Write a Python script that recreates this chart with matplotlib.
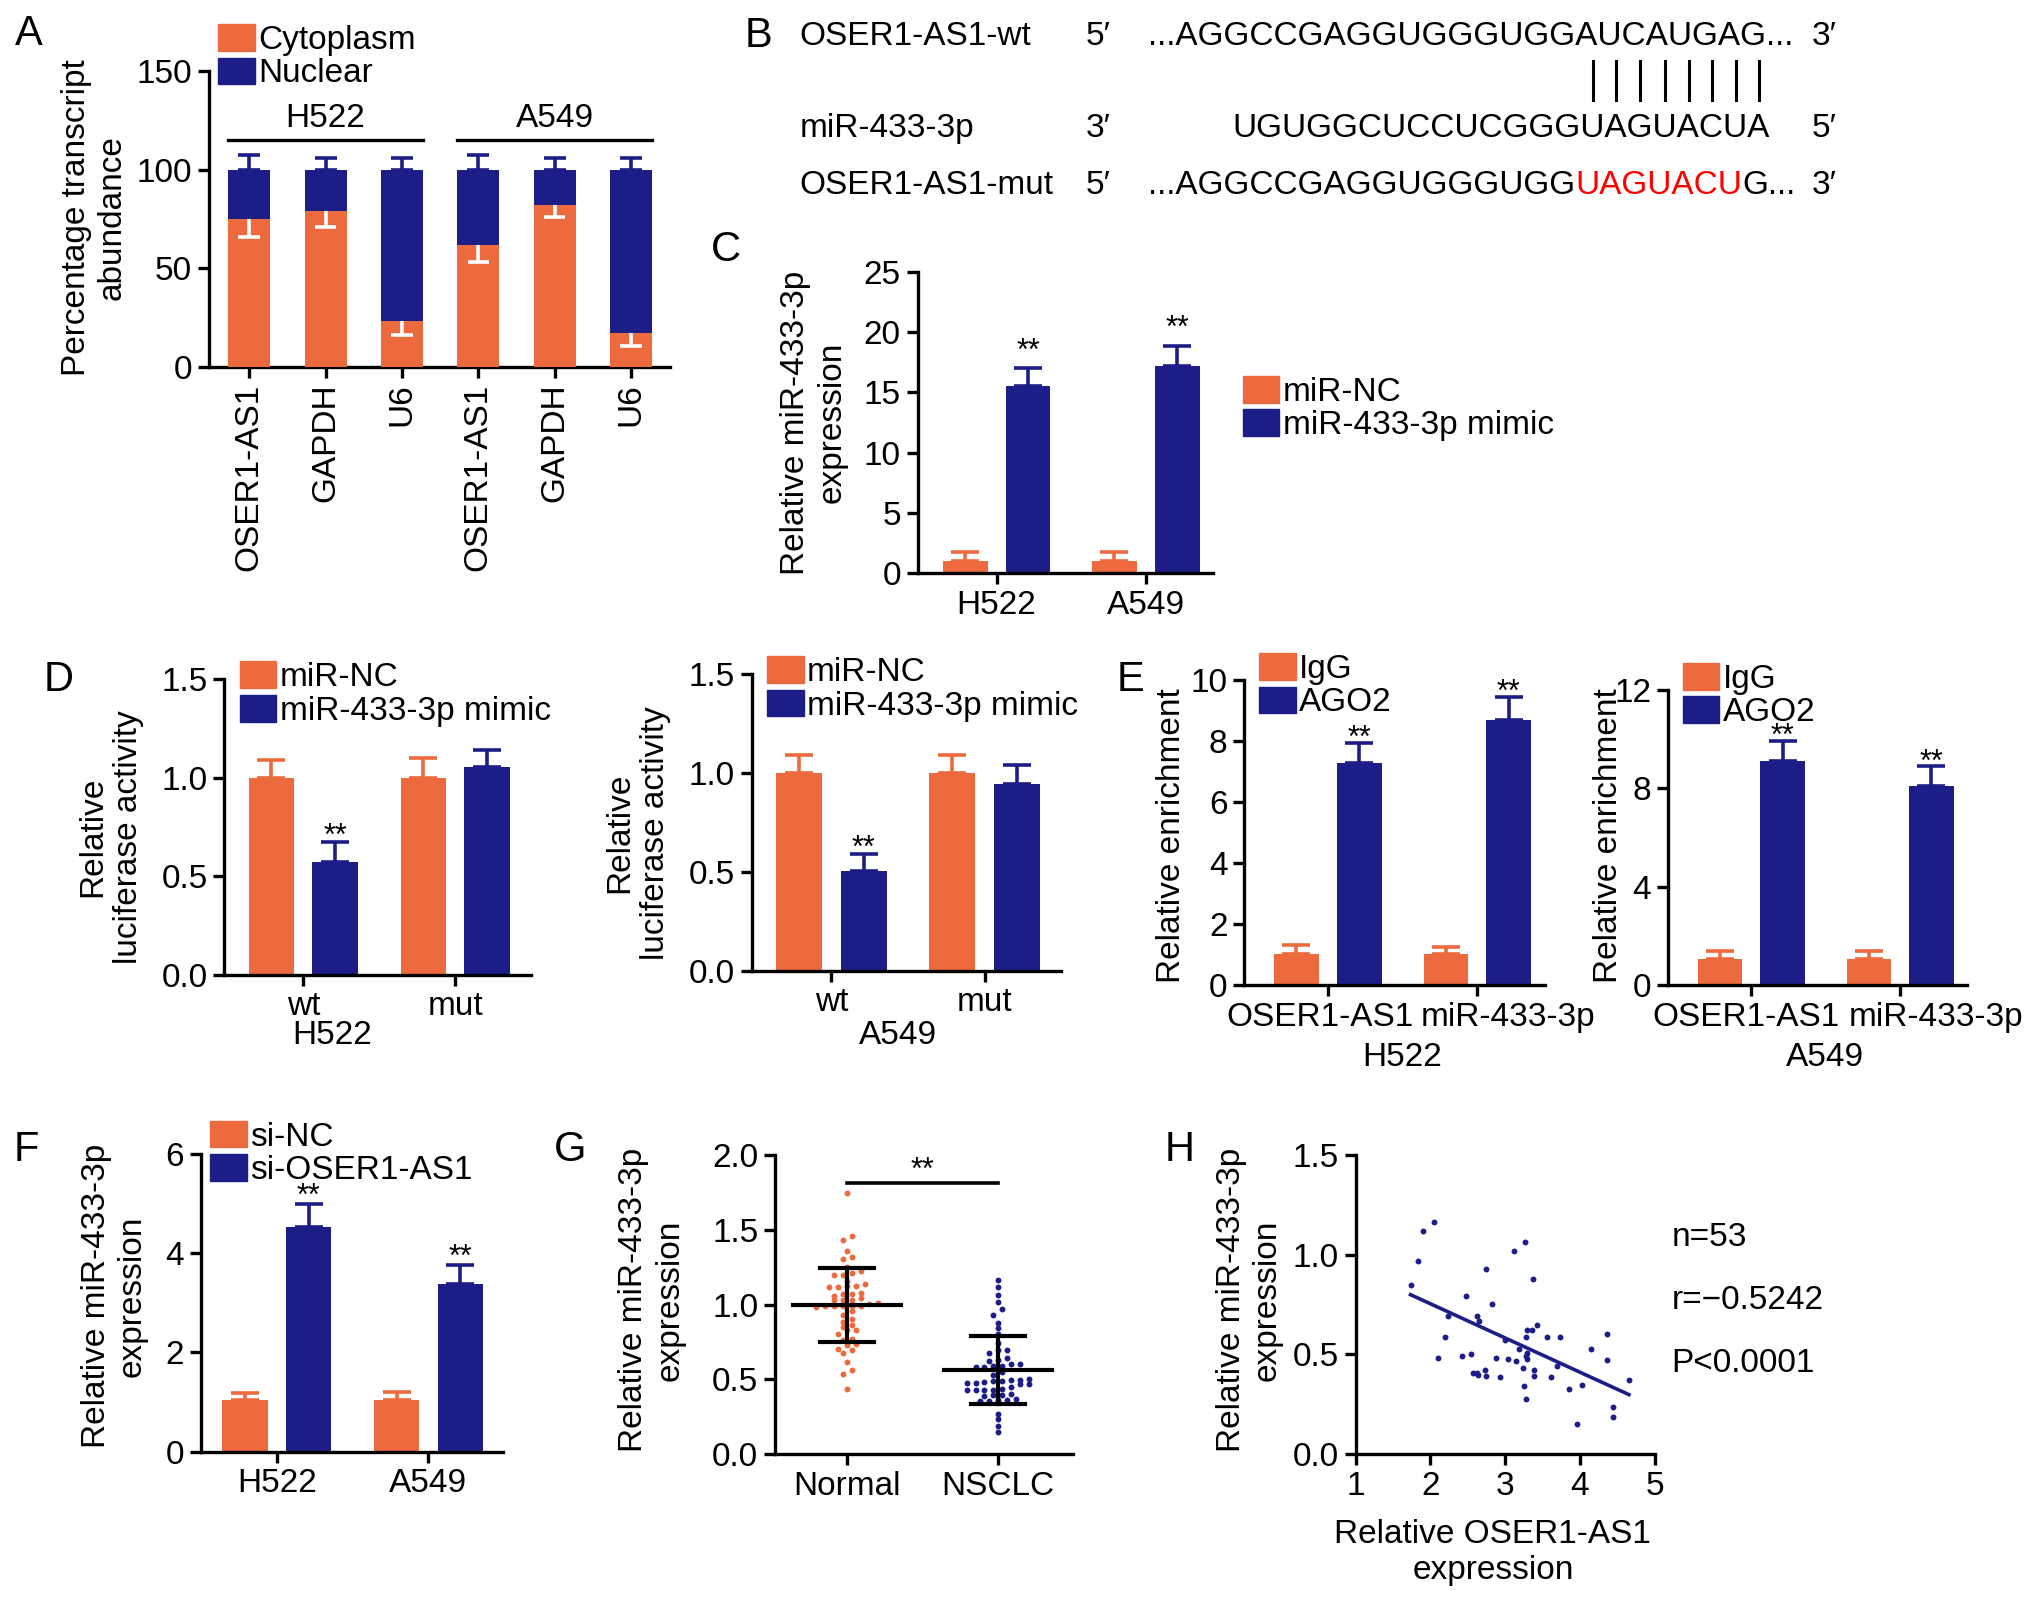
import numpy as np
import matplotlib
matplotlib.use("Agg")
import matplotlib.pyplot as plt
from matplotlib.patches import Patch
from matplotlib.lines import Line2D
import matplotlib.transforms as mtransforms

# ---------------- data ----------------
# A: subcellular fractionation (percent)
a_genes = ["OSER1-AS1", "GAPDH", "U6", "OSER1-AS1", "GAPDH", "U6"]
a_cells = ["H522", "A549"]
a_cyto = [75, 79, 23, 62, 82, 17]
a_cyto_err = [9, 8, 7, 9, 6, 6.5]
a_nuc_total = [100, 100, 100, 100, 100, 100]
a_nuc_err = [7.5, 6, 6, 7.5, 6, 6]

# B: sequences
b_wt = "...AGGCCGAGGUGGGUGGAUCAUGAG..."
b_mir = "UGUGGCUCCUCGGGUAGUACUA"
b_mut_parts = ["...AGGCCGAGGUGGGUGG", "UAGUACU", "G..."]
b_pair_idx = [14, 15, 16, 17, 18, 19, 20, 21]

cells = ["H522", "A549"]

# C: miR-433-3p after mimic
c_nc = [1.0, 1.0]
c_nc_err = [0.7, 0.7]
c_mimic = [15.5, 17.2]
c_mimic_err = [1.5, 1.7]

# D: luciferase
d_groups = ["wt", "mut"]
d_h522_nc = [1.0, 1.0]
d_h522_nc_err = [0.09, 0.10]
d_h522_mimic = [0.57, 1.055]
d_h522_mimic_err = [0.105, 0.087]
d_a549_nc = [1.0, 1.0]
d_a549_nc_err = [0.09, 0.09]
d_a549_mimic = [0.505, 0.945]
d_a549_mimic_err = [0.085, 0.095]

# E: RIP
e_targets = ["OSER1-AS1", "miR-433-3p"]
e_h522_igg = [1.03, 1.02]
e_h522_igg_err = [0.28, 0.22]
e_h522_ago2 = [7.3, 8.7]
e_h522_ago2_err = [0.64, 0.75]
e_a549_igg = [1.05, 1.05]
e_a549_igg_err = [0.33, 0.33]
e_a549_ago2 = [9.1, 8.1]
e_a549_ago2_err = [0.83, 0.78]

# F: knockdown
f_nc = [1.03, 1.03]
f_nc_err = [0.16, 0.18]
f_si = [4.52, 3.37]
f_si_err = [0.46, 0.39]

# G: tissue expression
g_normal = [1.742, 1.457, 1.430, 1.356, 1.318, 1.301, 1.212, 1.200, 1.200, 1.225,
            1.125, 1.114, 1.114, 1.125, 1.136, 1.073, 1.058, 1.069, 1.080, 1.029,
            1.029, 1.033, 1.047, 0.991, 0.984, 0.991, 0.991, 0.991, 0.991, 0.958,
            0.902, 0.884, 0.851, 0.829, 0.862, 0.829, 0.806, 0.739, 0.706, 0.695,
            0.728, 0.673, 0.617, 0.561, 0.539, 0.439, 1.002, 1.007, 1.250, 1.160,
            0.770, 0.760, 0.930]
g_nsclc = [1.163, 1.118, 1.062, 1.018, 0.967, 0.933, 0.878, 0.846, 0.695, 0.673,
           0.695, 0.640, 0.628, 0.606, 0.588, 0.584, 0.588, 0.584, 0.621, 0.528,
           0.499, 0.490, 0.483, 0.479, 0.472, 0.472, 0.479, 0.490, 0.499, 0.439,
           0.432, 0.428, 0.394, 0.388, 0.394, 0.401, 0.428, 0.432, 0.356, 0.356,
           0.361, 0.372, 0.272, 0.238, 0.187, 0.149, 0.800, 0.740, 0.600, 0.550,
           0.500, 0.450, 0.360]
g_groups = ["Normal", "NSCLC"]

# H: correlation
h_oser = [1.735, 1.837, 1.895, 2.047, 2.100, 2.194, 2.238, 2.425, 2.470, 2.546,
          2.572, 2.626, 2.648, 2.639, 2.737, 2.728, 2.750, 2.826, 2.871, 2.929,
          2.996, 3.040, 3.116, 3.258, 3.370, 3.285, 3.361, 3.419, 3.272, 3.183,
          3.138, 3.272, 3.285, 3.241, 3.383, 3.383, 3.250, 3.281, 3.552, 3.726,
          3.695, 3.606, 3.851, 4.029, 3.962, 4.140, 4.363, 4.363, 4.439, 4.439,
          4.653, 2.620, 3.290]
h_mir = [0.846, 0.969, 1.118, 1.165, 0.481, 0.587, 0.695, 0.494, 0.791, 0.503,
         0.407, 0.695, 0.670, 0.397, 0.930, 0.424, 0.394, 0.751, 0.481, 0.385,
         0.573, 0.478, 1.017, 1.061, 0.880, 0.620, 0.623, 0.648, 0.587, 0.528,
         0.469, 0.494, 0.478, 0.431, 0.424, 0.394, 0.344, 0.277, 0.587, 0.587,
         0.441, 0.385, 0.327, 0.349, 0.154, 0.528, 0.603, 0.474, 0.238, 0.188,
         0.372, 0.405, 0.505]
h_stats = ["n=53", "r=\u22120.5242", "P<0.0001"]

# ---------------- style ----------------
ORANGE = "#EC6A3E"
NAVY = "#1D1D88"
FS = 24
plt.rcParams["font.family"] = ["Liberation Sans", "DejaVu Sans"]
plt.rcParams["font.size"] = FS

W, H = 1568.0, 1236.0   # layout grid in preview pixels
fig = plt.figure(figsize=(20.32, 16.02), dpi=100)


def axes_at(x0, x1, ytop, ybot):
    return fig.add_axes([x0 / W, 1 - ybot / H, (x1 - x0) / W, (ybot - ytop) / H])


def ftext(x, y, s, **kw):
    kw.setdefault("ha", "center")
    kw.setdefault("va", "center")
    return fig.text(x / W, 1 - y / H, s, **kw)


def style(ax):
    for s in ("top", "right"):
        ax.spines[s].set_visible(False)
    for s in ("left", "bottom"):
        ax.spines[s].set_linewidth(2.4)
    ax.tick_params(width=2.4, length=8, labelsize=FS, pad=4)


def legend(ax, labels, anchor):
    handles = [Patch(color=ORANGE), Patch(color=NAVY)]
    ax.legend(handles, labels, loc="upper left", bbox_to_anchor=anchor,
              frameon=False, handlelength=1.1, handleheight=0.85,
              handletextpad=0.1, labelspacing=0.05, borderpad=0,
              borderaxespad=0, fontsize=FS)


def stars(ax, x, y, dy_pt):
    ax.annotate("**", (x, y), xytext=(0, dy_pt), textcoords="offset points",
                ha="center", va="baseline", fontsize=22)


OFF, BW = 0.21, 0.30


def pairs(ax, ctrl, ctrl_err, treat, treat_err, star_flags, dy_pt):
    x = np.arange(len(ctrl))
    ek = dict(elinewidth=2.6, capthick=2.6, capsize=10)
    ax.bar(x - OFF, ctrl, BW, color=ORANGE, yerr=[np.zeros(len(ctrl)), ctrl_err],
           error_kw=dict(ecolor=ORANGE, **ek), zorder=2)
    ax.bar(x + OFF, treat, BW, color=NAVY, yerr=[np.zeros(len(treat)), treat_err],
           error_kw=dict(ecolor=NAVY, **ek), zorder=2)
    for xi, v, e, s in zip(x + OFF, treat, treat_err, star_flags):
        if s:
            stars(ax, xi, v + e, dy_pt)
    ax.set_xticks(x)


# ---------------- A ----------------
axA = axes_at(161, 517, 55, 283)
style(axA)
xa = np.arange(len(a_genes))
wa = 0.55
axA.bar(xa, a_nuc_total, wa, color=NAVY, yerr=[np.zeros(6), a_nuc_err],
        error_kw=dict(ecolor=NAVY, elinewidth=2.6, capthick=2.6, capsize=8), zorder=2)
axA.bar(xa, a_cyto, wa, color=ORANGE, zorder=3)
low = np.asarray(a_cyto) - np.asarray(a_cyto_err)
axA.vlines(xa, low, a_cyto, color="white", lw=2.6, zorder=4)
axA.hlines(low, xa - 0.14, xa + 0.14, color="white", lw=2.6, zorder=4)
axA.set_xlim(-0.53, 5.51)
axA.set_ylim(0, 150)
axA.set_yticks([0, 50, 100, 150])
axA.set_xticks(xa)
axA.set_xticklabels(a_genes, rotation=90)
for k, name in enumerate(a_cells):
    x0, x1 = 3 * k - wa / 2, 3 * k + 2 + wa / 2
    axA.plot([x0, x1], [115, 115], color="black", lw=2.4, clip_on=False)
    axA.text((x0 + x1) / 2, 118, name, ha="center", va="bottom", fontsize=FS)
legend(axA, ["Cytoplasm", "Nuclear"], (0.02, 1.16))
ftext(73, 168, "Percentage transcript\nabundance", rotation=90, fontsize=FS,
      multialignment="center")
ftext(22, 26, "A", fontsize=30)

# ---------------- B ----------------
ftext(585, 28, "B", fontsize=30)
rows_y = [28, 99, 143]
ftext(617, rows_y[0], "OSER1-AS1-wt", ha="left")
ftext(617, rows_y[1], "miR-433-3p", ha="left")
ftext(617, rows_y[2], "OSER1-AS1-mut", ha="left")
for y, p in zip(rows_y, ["5\u2032", "3\u2032", "5\u2032"]):
    ftext(838, y, p, ha="left")
for y, p in zip(rows_y, ["3\u2032", "5\u2032", "3\u2032"]):
    ftext(1398, y, p, ha="left")
ftext(886, rows_y[0], b_wt, ha="left")
ftext(1366, rows_y[1], b_mir, ha="right")

renderer = fig.canvas.get_renderer()
fig_w_px = fig.bbox.width

# mutant row in pieces (red mutated site)
x_cur = 886 / W
for part, col in zip(b_mut_parts, ["black", "red", "black"]):
    t = fig.text(x_cur, 1 - rows_y[2] / H, part, ha="left", va="center", color=col)
    x_cur = t.get_window_extent(renderer).x1 / fig_w_px


def text_width(s):
    t = fig.text(0, 0, s, fontsize=FS)
    w = t.get_window_extent(renderer).width
    t.remove()
    return w


x_end_px = 1366 / W * fig_w_px
for i in b_pair_idx:
    xc = x_end_px - (text_width(b_mir[i:]) + text_width(b_mir[i + 1:])) / 2
    fig.add_artist(Line2D([xc / fig_w_px] * 2, [1 - 47 / H, 1 - 77 / H],
                          transform=fig.transFigure, color="black", lw=2.2))

# ---------------- C ----------------
axC = axes_at(708, 936, 210, 442)
style(axC)
pairs(axC, c_nc, c_nc_err, c_mimic, c_mimic_err, [True, True], 6)
axC.set_xticklabels(cells)
axC.set_xlim(-0.53, 1.45)
axC.set_ylim(0, 25)
axC.set_yticks([0, 5, 10, 15, 20, 25])
legend(axC, ["miR-NC", "miR-433-3p mimic"], (1.1, 0.655))
ftext(628, 326, "Relative miR-433-3p\nexpression", rotation=90, multialignment="center")
ftext(560, 193, "C", fontsize=30)

# ---------------- D ----------------
for (x0, x1, yt, yb), nc, nce, mm, mme, cell, lab_x, cell_x in [
        ((173, 410, 524, 752), d_h522_nc, d_h522_nc_err, d_h522_mimic, d_h522_mimic_err, "H522", 85, 256),
        ((580, 819, 520, 749), d_a549_nc, d_a549_nc_err, d_a549_mimic, d_a549_mimic_err, "A549", 492, 693)]:
    ax = axes_at(x0, x1, yt, yb)
    style(ax)
    pairs(ax, nc, nce, mm, mme, [True, False], -2)
    ax.set_xticklabels(d_groups)
    ax.set_xlim(-0.52, 1.5)
    ax.set_ylim(0, 1.5)
    ax.set_yticks([0, 0.5, 1.0, 1.5])
    ax.set_yticklabels(["0.0", "0.5", "1.0", "1.5"])
    legend(ax, ["miR-NC", "miR-433-3p mimic"], (0.05, 1.06))
    ftext(lab_x, (yt + yb) / 2 + 8, "Relative\nluciferase activity", rotation=90,
          multialignment="center")
    ftext(cell_x, 799, cell)
ftext(45, 525, "D", fontsize=30)

# ---------------- E ----------------
for (x0, x1, yt, yb), igg, igge, ago, agoe, cell, ymax, yt_list, lab_x, shifts in [
        ((960, 1192, 525, 760), e_h522_igg, e_h522_igg_err, e_h522_ago2, e_h522_ago2_err,
         "H522", 10, [0, 2, 4, 6, 8, 10], 904, (-6, 22)),
        ((1287, 1518, 532, 760), e_a549_igg, e_a549_igg_err, e_a549_ago2, e_a549_ago2_err,
         "A549", 12, [0, 4, 8, 12], 1241, (-4, 26))]:
    ax = axes_at(x0, x1, yt, yb)
    style(ax)
    pairs(ax, igg, igge, ago, agoe, [True, True], -3)
    ax.set_xticklabels(e_targets)
    for lbl, dx in zip(ax.get_xticklabels(), shifts):
        lbl.set_transform(lbl.get_transform() +
                          mtransforms.ScaledTranslation(dx / 72, 0, fig.dpi_scale_trans))
    ax.set_xlim(-0.56, 1.45)
    ax.set_ylim(0, ymax)
    ax.set_yticks(yt_list)
    legend(ax, ["IgG", "AGO2"], (0.05, 1.09))
    ftext(lab_x, 645, "Relative enrichment", rotation=90)
    ftext((x0 + x1) / 2 + 6, 816, cell)
ftext(872, 525, "E", fontsize=30)

# ---------------- F ----------------
axF = axes_at(155, 388, 890, 1120)
style(axF)
pairs(axF, f_nc, f_nc_err, f_si, f_si_err, [True, True], -0.5)
axF.set_xticklabels(cells)
axF.set_xlim(-0.5, 1.49)
axF.set_ylim(0, 6)
axF.set_yticks([0, 2, 4, 6])
legend(axF, ["si-NC", "si-OSER1-AS1"], (0.03, 1.11))
ftext(88, 1000, "Relative miR-433-3p\nexpression", rotation=90, multialignment="center")
ftext(20, 887, "F", fontsize=30)

# ---------------- G ----------------
axG = axes_at(598, 828, 891, 1122)
style(axG)
step, row_h = 0.059, 0.045
for k, (vals, col) in enumerate([(g_normal, ORANGE), (g_nsclc, NAVY)]):
    vals = np.asarray(vals)
    bins = np.round(vals / row_h).astype(int)
    offs = np.zeros(len(vals))
    for b in np.unique(bins):
        idx = np.where(bins == b)[0]
        idx = idx[np.argsort(vals[idx])]
        n = len(idx)
        offs[idx] = (np.arange(n) - (n - 1) / 2) * step
    axG.scatter(k + offs, vals, s=18, color=col, zorder=2, linewidths=0)
    m, sd = vals.mean(), vals.std(ddof=1)
    axG.plot([k - 0.36, k + 0.36], [m, m], color="black", lw=3, zorder=3)
    axG.plot([k, k], [m - sd, m + sd], color="black", lw=3, zorder=3)
    for yv in (m - sd, m + sd):
        axG.plot([k - 0.18, k + 0.18], [yv, yv], color="black", lw=3, zorder=3)
axG.plot([0, 1], [1.81, 1.81], color="black", lw=2.6)
stars(axG, 0.5, 1.81, 3)
axG.set_xticks([0, 1])
axG.set_xticklabels(g_groups)
axG.set_xlim(-0.48, 1.5)
axG.set_ylim(0, 2.0)
axG.set_yticks([0, 0.5, 1.0, 1.5, 2.0])
axG.set_yticklabels(["0.0", "0.5", "1.0", "1.5", "2.0"])
ftext(503, 1003, "Relative miR-433-3p\nexpression", rotation=90, multialignment="center")
ftext(440, 887, "G", fontsize=30)

# ---------------- H ----------------
axH = axes_at(1046, 1277, 891, 1122)
style(axH)
hx, hy = np.asarray(h_oser), np.asarray(h_mir)
axH.scatter(hx, hy, s=18, color=NAVY, zorder=2, linewidths=0)
slope, icpt = np.polyfit(hx, hy, 1)
xx = np.array([hx.min(), hx.max()])
axH.plot(xx, slope * xx + icpt, color=NAVY, lw=2.6)
axH.set_xlim(1, 5)
axH.set_ylim(0, 1.5)
axH.set_xticks([1, 2, 3, 4, 5])
axH.set_yticks([0, 0.5, 1.0, 1.5])
axH.set_yticklabels(["0.0", "0.5", "1.0", "1.5"])
for y, s in zip([955, 1003, 1052], h_stats):
    ftext(1290, y, s, ha="left")
ftext(964, 1003, "Relative miR-433-3p\nexpression", rotation=90, multialignment="center")
ftext(1152, 1198, "Relative OSER1-AS1\nexpression", multialignment="center")
ftext(910, 887, "H", fontsize=30)

fig.savefig("out.png", dpi=100)
